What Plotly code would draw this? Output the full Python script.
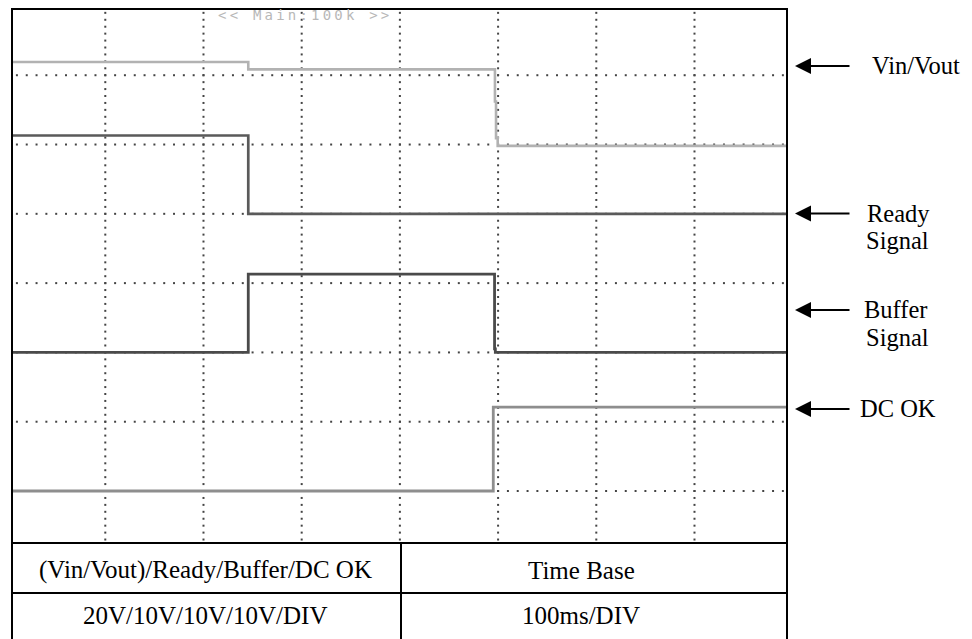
import numpy as np
import plotly.graph_objects as go

# ---------------- data (time in ms, level in scope divisions) ----------------
vin_t = [5.0, 245.6, 496.8, 497.9, 499.6, 794.2]
vin_v = [7.19, 7.085, 6.62, 6.09, 5.98, 5.98]

ready_t = [5.0, 245.6, 794.2]
ready_v = [6.13, 5.0, 5.0]

buffer_t = [5.0, 245.6, 496.4, 497.2, 794.2]
buffer_v = [3.0, 4.13, 3.05, 3.0, 3.0]

dcok_t = [5.0, 495.1, 794.2]
dcok_v = [1.0, 2.21, 2.21]

signal_labels = ["Vin/Vout", "Ready", "Signal", "Buffer", "Signal", "DC OK"]
table_header = ["(Vin/Vout)/Ready/Buffer/DC OK", "Time Base"]
table_values = ["20V/10V/10V/10V/DIV", "100ms/DIV"]
scope_banner = "<< Main:100k >>"

# ---------------- layout geometry ----------------
# the page body adds an 8px offset; positions below are given in window pixels
OFF = 8
W, H = 972 - OFF, 639 - OFF
ML, MR, MT, MB = 4, 185, 0, 96
PW, PH = W - ML - MR, H - MT - MB


def px(x):
    return (x - OFF - ML) / PW


def py(y):
    return (H - MB - (y - OFF)) / PH


X_RANGE = [5.0, 794.2]
Y_RANGE = [0.25, 7.97]

SERIF = "Liberation Serif, Times New Roman, serif"

fig = go.Figure()

# oscilloscope dotted graticule (major lines every division, dots every 1/10 div)
major_t = np.arange(100, 800, 100)
major_v = np.arange(1, 8)
minor_t = np.arange(10, 791, 10)
minor_v = np.round(np.arange(0.3, 7.95, 0.1), 2)
gx, gy = [], []
for t in major_t:
    gx += [t] * len(minor_v)
    gy += list(minor_v)
for v in major_v:
    gx += list(minor_t)
    gy += [v] * len(minor_t)
fig.add_trace(go.Scatter(x=gx, y=gy, mode="markers", hoverinfo="skip",
                         marker=dict(symbol="square", size=2, color="#444444",
                                     line=dict(width=0)),
                         showlegend=False))

traces = [
    ("Vin/Vout", vin_t, vin_v, "#b2b2b2", 2.6),
    ("Ready", ready_t, ready_v, "#5a5a5a", 2.7),
    ("Buffer", buffer_t, buffer_v, "#4a4a4a", 2.8),
    ("DC OK", dcok_t, dcok_v, "#8e8e8e", 2.8),
]
for name, t, v, c, w in traces:
    fig.add_trace(go.Scatter(x=t, y=v, mode="lines", name=name,
                             line=dict(color=c, width=w, shape="hv"),
                             showlegend=False))

# frame + table lines
shapes = []


def seg(x0, y0, x1, y1):
    shapes.append(dict(type="line", xref="paper", yref="paper",
                       x0=px(x0), y0=py(y0), x1=px(x1), y1=py(y1),
                       line=dict(color="black", width=2), layer="above"))


seg(11, 9, 788, 9)            # top
seg(12, 8, 12, 650)           # left
seg(787, 8, 787, 650)         # right
seg(11, 543, 788, 543)        # table top / plot bottom
seg(11, 593, 788, 593)        # table middle
seg(401, 543, 401, 650)       # table divider

annotations = []
# arrows pointing at the traces
for ya in [66, 213.5, 310, 409]:
    annotations.append(dict(x=px(795), y=py(ya), xref="paper", yref="paper",
                            ax=56, ay=0, text="", showarrow=True,
                            arrowhead=2, arrowsize=1.6, arrowwidth=2,
                            arrowcolor="black"))
# labels
label_pos = [(915.5, 66), (898, 213), (897.5, 240), (896, 309), (897.5, 337), (897.5, 408)]
for lab, (lx, ly) in zip(signal_labels, label_pos):
    annotations.append(dict(x=px(lx), y=py(ly), xref="paper", yref="paper",
                            text=lab, showarrow=False, xanchor="center",
                            yanchor="middle", align="center",
                            font=dict(family=SERIF, size=24.5, color="black")))

# table text
cell_x = [205, 581]
for txt, cx in zip(table_header, cell_x):
    annotations.append(dict(x=px(cx), y=py(570), xref="paper", yref="paper",
                            text=txt, showarrow=False, xanchor="center",
                            yanchor="middle",
                            font=dict(family=SERIF, size=25, color="black")))
for txt, cx in zip(table_values, cell_x):
    annotations.append(dict(x=px(cx), y=py(615), xref="paper", yref="paper",
                            text=txt, showarrow=False, xanchor="center",
                            yanchor="middle",
                            font=dict(family=SERIF, size=25, color="black")))

# scope banner
banner = scope_banner.replace("<", "&lt;").replace(">", "&gt;")
annotations.append(dict(x=px(305), y=py(15), xref="paper", yref="paper",
                        text='<span style="letter-spacing:3.2px">' + banner + "</span>",
                        showarrow=False, xanchor="center", yanchor="middle",
                        font=dict(family="DejaVu Sans Mono, monospace", size=14,
                                  color="#b8b8b8")))

fig.update_layout(
    width=W, height=H,
    margin=dict(l=ML, r=MR, t=MT, b=MB, pad=0),
    paper_bgcolor="white", plot_bgcolor="white",
    xaxis=dict(range=X_RANGE, showgrid=False, zeroline=False, showticklabels=False,
               ticks="", showline=False, fixedrange=True),
    yaxis=dict(range=Y_RANGE, showgrid=False, zeroline=False, showticklabels=False,
               ticks="", showline=False, fixedrange=True),
    shapes=shapes,
    annotations=annotations,
    showlegend=False,
)

fig.write_html("out.html")
